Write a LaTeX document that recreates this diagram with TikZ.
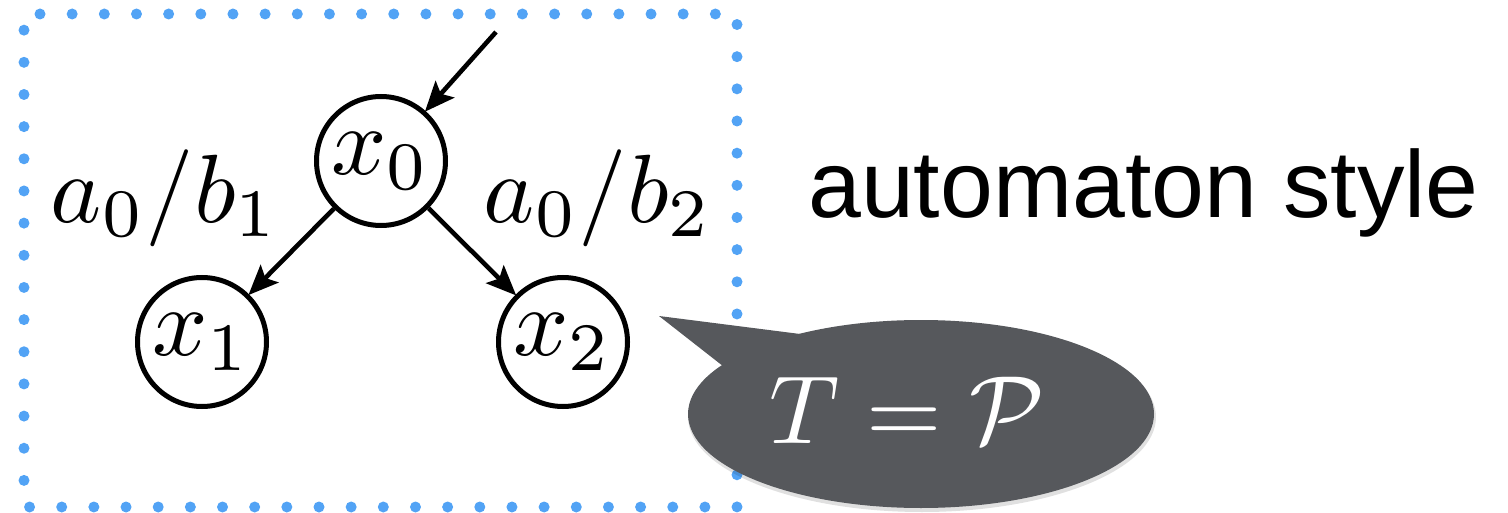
\documentclass[tikz,border=0pt]{standalone}
\usepackage{fontspec}
\usepackage{graphicx}
\newfontfamily\labelfont{Liberation Sans}
\usetikzlibrary{arrows.meta,shapes.geometric}
\definecolor{dotblue}{RGB}{82,163,245}
\definecolor{bubblegray}{RGB}{86,88,92}
\newcommand{\hugemath}[1]{\scalebox{9.7}{$#1$}}
\tikzset{
  state/.style={circle, draw, line width=5pt, minimum size=129pt, inner sep=0pt},
  trans/.style={line width=4.6pt, -{Stealth[length=30pt,width=25pt,inset=6pt]}, shorten >=-1pt},
  edgelabel/.style={inner sep=0pt},
}
\begin{document}
\begin{tikzpicture}[x=1pt,y=-1pt]
\useasboundingbox (0,0) rectangle (1508,513);
% dotted frame
\draw[dotblue, line width=11pt, line cap=round, dash pattern=on 0pt off 32.16pt, dash phase=16pt] (24,14) rectangle (737,507);
% states
\node[state] (x0) at (381,161) {\hugemath{x_0}};
\node[state] (x1) at (202,342) {\hugemath{x_1}};
\node[state] (x2) at (563,342) {\hugemath{x_2}};
\coordinate (start) at (496,32);
\draw[trans] (start) -- (x0);
\draw[trans] (x0) -- (x1);
\draw[trans] (x0) -- (x2);
\node[edgelabel] (l1) at (165,198) {\hugemath{a_0/b_1}};
\node[edgelabel] (l2) at (598,198) {\hugemath{a_0/b_2}};
% caption
\node[anchor=base west, inner sep=0pt, font=\labelfont\fontsize{95}{110}\selectfont] (cap) at (808,218) {automaton style};
% callout
\node[ellipse, fill=black, opacity=0.12, minimum width=468pt, minimum height=190pt, inner sep=0pt] (shadow) at (922,417) {};
\node[ellipse, fill=bubblegray, minimum width=466pt, minimum height=188pt, inner sep=0pt] (bubble) at (921,414) {};
\coordinate (tip) at (659,316);
\fill[bubblegray] (tip) -- (808,335) -- (728,370) -- cycle;
\node[text=white, inner sep=0pt] (eq) at (907,410) {\hugemath{T=\mathcal{P}}};
\end{tikzpicture}
\end{document}
